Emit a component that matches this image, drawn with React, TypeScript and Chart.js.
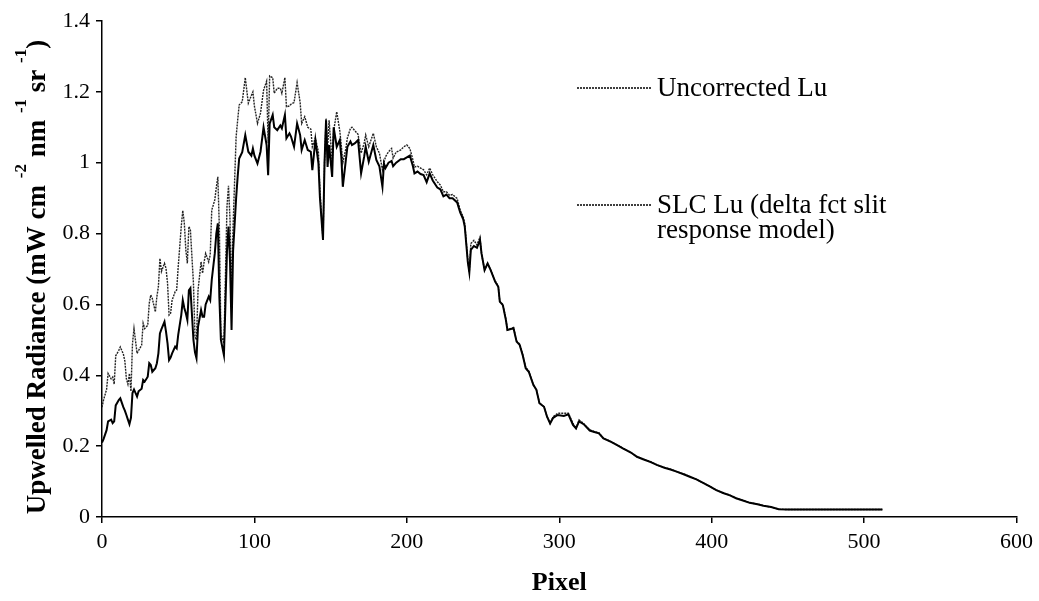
import React, { useEffect, useRef } from "react";
import { Chart, registerables } from "chart.js";

Chart.register(...registerables);

// Detector pixel index for each sample
const pixels = [
  0, 1, 3, 4, 6, 7, 8, 9, 11, 12, 14, 15, 16, 17, 18, 19, 20, 21, 23, 24,
  26, 27, 28, 30, 31, 32, 33, 35, 36, 37, 38, 39, 41, 42, 43, 44, 45, 46, 48, 49,
  50, 52, 53, 54, 55, 56, 57, 58, 60, 61, 62, 63, 65, 66, 67, 68, 70, 71, 72, 74,
  75, 76, 77, 78, 80, 82, 83, 84, 85, 86, 88, 89, 90, 92, 94, 96, 98, 99, 100, 102,
  104, 106, 108, 109, 110, 112, 113, 115, 117, 118, 120, 121, 123, 124, 126, 128, 130, 131, 133, 135,
  137, 138, 140, 142, 143, 145, 146, 147, 148, 149, 151, 152, 154, 156, 157, 158, 160, 161, 163, 164,
  166, 168, 170, 172, 173, 175, 178, 180, 182, 184, 185, 186, 188, 190, 191, 193, 196, 198, 200, 202,
  204, 205, 207, 209, 211, 213, 215, 217, 220, 222, 224, 226, 228, 230, 233, 235, 237, 238, 240, 241,
  242, 244, 246, 248, 249, 251, 253, 255, 258, 260, 261, 263, 265, 266, 270, 272, 274, 276, 278, 280,
  283, 285, 287, 290, 292, 294, 296, 299, 303, 306, 309, 311, 313, 316, 320, 323, 326, 329, 334, 338,
  342, 347, 351, 355, 360, 364, 369, 373, 377, 382, 386, 390, 395, 399, 403, 408, 412, 416, 421, 425,
  430, 434, 439, 444, 450, 460, 470, 480, 490, 500, 512,
];

// Uncorrected upwelled radiance
const uncorrectedLu = [
  0.31, 0.33, 0.36, 0.405, 0.39, 0.395, 0.375, 0.455, 0.47, 0.48, 0.46, 0.44, 0.39, 0.375, 0.405, 0.355, 0.49, 0.532, 0.462, 0.47,
  0.485, 0.547, 0.532, 0.541, 0.603, 0.627, 0.617, 0.579, 0.622, 0.65, 0.73, 0.693, 0.716, 0.702, 0.66, 0.57, 0.575, 0.612, 0.636, 0.641,
  0.706, 0.82, 0.865, 0.83, 0.754, 0.716, 0.82, 0.81, 0.66, 0.509, 0.5, 0.64, 0.72, 0.688, 0.72, 0.744, 0.72, 0.74, 0.866, 0.895,
  0.93, 0.96, 0.816, 0.518, 0.49, 0.876, 0.935, 0.838, 0.631, 0.82, 1.073, 1.12, 1.163, 1.172, 1.24, 1.168, 1.19, 1.2, 1.16, 1.111,
  1.14, 1.205, 1.23, 1.055, 1.245, 1.24, 1.196, 1.21, 1.21, 1.196, 1.24, 1.158, 1.16, 1.165, 1.17, 1.226, 1.17, 1.111, 1.13, 1.1,
  1.095, 1.045, 1.07, 1.03, 0.923, 0.782, 1.0, 1.125, 1.04, 1.12, 1.0, 1.09, 1.144, 1.09, 1.05, 1.0, 1.04, 1.07, 1.097, 1.1,
  1.09, 1.08, 1.027, 1.055, 1.078, 1.045, 1.083, 1.045, 1.027, 0.98, 1.0, 1.017, 1.031, 1.04, 1.013, 1.03, 1.036, 1.045, 1.05, 1.04,
  1.008, 0.988, 0.99, 0.985, 0.98, 0.966, 0.985, 0.966, 0.946, 0.937, 0.918, 0.918, 0.908, 0.91, 0.899, 0.866, 0.847, 0.828, 0.725, 0.692,
  0.772, 0.781, 0.768, 0.79, 0.744, 0.697, 0.716, 0.697, 0.666, 0.652, 0.608, 0.6, 0.558, 0.528, 0.535, 0.497, 0.488, 0.459, 0.422, 0.412,
  0.373, 0.36, 0.322, 0.311, 0.283, 0.264, 0.283, 0.293, 0.293, 0.293, 0.264, 0.25, 0.274, 0.264, 0.246, 0.241, 0.238, 0.222, 0.213, 0.203,
  0.194, 0.182, 0.17, 0.164, 0.156, 0.147, 0.14, 0.135, 0.128, 0.121, 0.114, 0.106, 0.095, 0.086, 0.076, 0.067, 0.062, 0.053, 0.046, 0.04,
  0.037, 0.032, 0.028, 0.022, 0.021, 0.021, 0.021, 0.021, 0.021, 0.021, 0.021,
];

// Stray-light-corrected radiance (delta function slit response model)
const slcLu = [
  0.21, 0.22, 0.245, 0.27, 0.275, 0.265, 0.27, 0.315, 0.33, 0.335, 0.31, 0.3, 0.288, 0.275, 0.262, 0.28, 0.35, 0.36, 0.34, 0.355,
  0.362, 0.387, 0.382, 0.396, 0.434, 0.429, 0.41, 0.42, 0.434, 0.462, 0.518, 0.53, 0.551, 0.523, 0.49, 0.443, 0.45, 0.462, 0.481, 0.476,
  0.514, 0.57, 0.612, 0.59, 0.575, 0.556, 0.64, 0.646, 0.5, 0.465, 0.448, 0.537, 0.584, 0.565, 0.565, 0.6, 0.622, 0.612, 0.669, 0.744,
  0.8, 0.829, 0.62, 0.5, 0.457, 0.75, 0.82, 0.72, 0.528, 0.75, 0.9, 0.96, 1.012, 1.03, 1.078, 1.031, 1.02, 1.04, 1.02, 0.998,
  1.031, 1.1, 1.05, 0.965, 1.11, 1.135, 1.1, 1.092, 1.105, 1.097, 1.135, 1.069, 1.083, 1.074, 1.045, 1.111, 1.078, 1.036, 1.064, 1.036,
  1.031, 0.979, 1.064, 0.998, 0.9, 0.782, 1.0, 1.12, 0.988, 1.05, 0.96, 1.1, 1.045, 1.064, 1.017, 0.932, 1.008, 1.045, 1.06, 1.05,
  1.055, 1.064, 0.97, 1.017, 1.045, 1.003, 1.05, 1.008, 0.99, 0.932, 0.998, 0.985, 1.0, 1.005, 0.99, 1.0, 1.01, 1.01, 1.015, 1.02,
  0.99, 0.97, 0.975, 0.968, 0.965, 0.945, 0.97, 0.95, 0.93, 0.925, 0.905, 0.91, 0.9, 0.9, 0.888, 0.86, 0.84, 0.82, 0.72, 0.69,
  0.754, 0.765, 0.76, 0.782, 0.744, 0.697, 0.716, 0.697, 0.664, 0.65, 0.608, 0.598, 0.556, 0.528, 0.533, 0.495, 0.486, 0.457, 0.42, 0.41,
  0.373, 0.359, 0.321, 0.311, 0.283, 0.264, 0.28, 0.288, 0.285, 0.29, 0.26, 0.25, 0.27, 0.262, 0.244, 0.24, 0.236, 0.222, 0.212, 0.203,
  0.193, 0.182, 0.17, 0.163, 0.155, 0.147, 0.139, 0.134, 0.128, 0.12, 0.113, 0.106, 0.095, 0.086, 0.076, 0.067, 0.061, 0.053, 0.046, 0.04,
  0.036, 0.032, 0.028, 0.022, 0.021, 0.021, 0.021, 0.021, 0.021, 0.021, 0.021,
];

const xTickValues = [0, 100, 200, 300, 400, 500, 600];
const yTickValues = [0, 0.2, 0.4, 0.6, 0.8, 1, 1.2, 1.4];

const xAxisTitle = "Pixel";
const yAxisTitle = [
  { text: "Upwelled Radiance (mW cm ", sup: false },
  { text: "-2", sup: true },
  { text: " nm ", sup: false },
  { text: "-1", sup: true },
  { text: " sr ", sup: false },
  { text: "-1", sup: true },
  { text: ")", sup: false },
];
const legendLabels = [["Uncorrected Lu"], ["SLC Lu (delta fct slit", "response model)"]];

const SERIF = "'Liberation Serif', 'Times New Roman', serif";

const textOverlay = {
  id: "textOverlay",
  afterDraw(chart: any) {
    const ctx: CanvasRenderingContext2D = chart.ctx;
    const area = chart.chartArea;
    ctx.save();
    ctx.fillStyle = "#000";

    // x-axis title
    ctx.font = `bold 26px ${SERIF}`;
    ctx.textAlign = "center";
    ctx.textBaseline = "middle";
    ctx.fillText(xAxisTitle, (area.left + area.right) / 2, 583);

    // y-axis title with superscripts, rotated
    const mainFont = `bold 27px ${SERIF}`;
    const supFont = `bold 17px ${SERIF}`;
    let total = 0;
    for (const seg of yAxisTitle) {
      ctx.font = seg.sup ? supFont : mainFont;
      total += ctx.measureText(seg.text).width;
    }
    ctx.translate(45, (area.top + area.bottom) / 2 + 8);
    ctx.rotate(-Math.PI / 2);
    ctx.textAlign = "left";
    ctx.textBaseline = "alphabetic";
    let pos = -total / 2;
    for (const seg of yAxisTitle) {
      ctx.font = seg.sup ? supFont : mainFont;
      ctx.fillText(seg.text, pos, seg.sup ? -19 : 0);
      pos += ctx.measureText(seg.text).width;
    }
    ctx.restore();

    // legend
    ctx.save();
    const rows = [88, 205];
    ctx.strokeStyle = "#000";
    ctx.lineWidth = 1.3;
    ctx.setLineDash([2, 1]);
    ctx.font = `27px ${SERIF}`;
    ctx.fillStyle = "#000";
    ctx.textAlign = "left";
    ctx.textBaseline = "middle";
    legendLabels.forEach((lines, i) => {
      const y = rows[i];
      ctx.beginPath();
      ctx.moveTo(577, y);
      ctx.lineTo(652, y);
      ctx.stroke();
      lines.forEach((line, j) => ctx.fillText(line, 657, y + 1 + j * 25));
    });
    ctx.restore();
  },
};

export default function App() {
  const canvasRef = useRef<HTMLCanvasElement | null>(null);

  useEffect(() => {
    const canvas = canvasRef.current;
    if (!canvas) return;
    const chart = new Chart(canvas, {
      type: "line",
      data: {
        datasets: [
          {
            label: "Uncorrected Lu",
            data: pixels.map((p, i) => ({ x: p, y: uncorrectedLu[i] })),
            borderColor: "#222",
            borderWidth: 1.4,
            borderDash: [2, 1],
            pointRadius: 0,
            tension: 0,
            order: 1,
          },
          {
            label: "SLC Lu (delta fct slit response model)",
            data: pixels.map((p, i) => ({ x: p, y: slcLu[i] })),
            borderColor: "#000",
            borderWidth: 2,
            pointRadius: 0,
            tension: 0,
            order: 0,
          },
        ],
      },
      options: {
        animation: false,
        responsive: false,
        devicePixelRatio: 1,
        layout: { padding: { left: 0, right: 18, top: 21, bottom: 0 } },
        plugins: { legend: { display: false }, tooltip: { enabled: false } },
        scales: {
          x: {
            type: "linear",
            min: 0,
            max: 600,
            afterBuildTicks: (s: any) => {
              s.ticks = xTickValues.map((v) => ({ value: v }));
            },
            afterFit: (s: any) => {
              s.height = 84;
            },
            ticks: {
              color: "#000",
              font: { family: SERIF, size: 22 },
              padding: 6,
              maxRotation: 0,
              callback: (v: any) => String(v),
            },
            grid: {
              drawOnChartArea: false,
              drawTicks: true,
              tickLength: 6,
              color: "#000",
              lineWidth: 1.5,
            },
            border: { color: "#000", width: 1.5 },
          },
          y: {
            type: "linear",
            min: 0,
            max: 1.4,
            afterBuildTicks: (s: any) => {
              s.ticks = yTickValues.map((v) => ({ value: v }));
            },
            afterFit: (s: any) => {
              s.width = 102;
            },
            ticks: {
              color: "#000",
              font: { family: SERIF, size: 22 },
              padding: 6,
              callback: (v: any) => String(Math.round(Number(v) * 10) / 10),
            },
            grid: {
              drawOnChartArea: false,
              drawTicks: true,
              tickLength: 6,
              color: "#000",
              lineWidth: 1.5,
            },
            border: { color: "#000", width: 1.5 },
          },
        },
      },
      plugins: [textOverlay],
    });
    return () => chart.destroy();
  }, []);

  return (
    <div style={{ position: "fixed", left: 0, top: 0, width: 1039, height: 601, background: "#fff" }}>
      <canvas ref={canvasRef} width={1039} height={601} />
    </div>
  );
}
